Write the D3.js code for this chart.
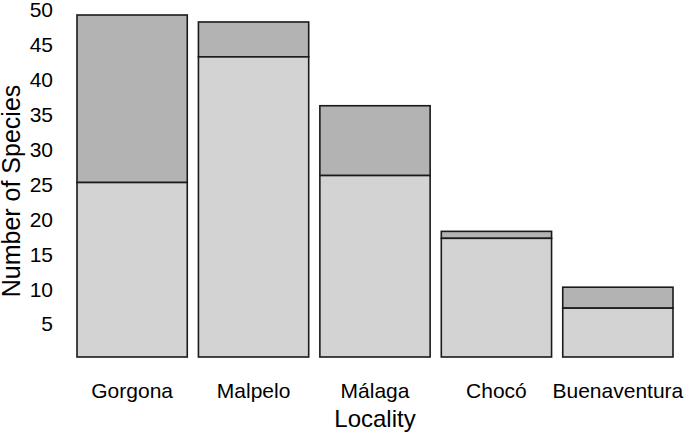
<!DOCTYPE html>
<html>
<head>
<meta charset="utf-8">
<script src="https://cdn.jsdelivr.net/npm/d3@7"></script>
<style>
  body { margin: 0; background: #fff; }
  text { font-family: "Liberation Sans", Arial, sans-serif; fill: #000; }
</style>
</head>
<body>
<div id="chart-area"></div>
<script>
// data
let localities = ["Gorgona", "Malpelo", "Málaga", "Chocó", "Buenaventura"];
let lowerValues = [25, 43, 26, 17, 7];
let upperValues = [24, 5, 10, 1, 3];
let yTicks = [5, 10, 15, 20, 25, 30, 35, 40, 45, 50];

let w = 685;
let h = 433;
let left = 77;
let right = 673;
let bottom = 357;

let svg = d3.select("#chart-area")
    .append("svg")
    .attr("width", w)
    .attr("height", h);

let xScale = d3.scaleBand()
    .domain(localities)
    .range([left, right])
    .paddingInner(0.092)
    .paddingOuter(0);

let yScale = d3.scaleLinear()
    .domain([0, 49])
    .range([bottom, 15]);

// y axis: labels only
let yAxis = d3.axisLeft(yScale)
    .tickValues(yTicks)
    .tickSize(0)
    .tickPadding(0);
let gy = svg.append("g")
    .attr("transform", "translate(53,0)")
    .call(yAxis);
gy.select(".domain").remove();
gy.selectAll("text")
    .style("font-size", "21px")
    .attr("dy", "0.42em");

// x axis
let xAxis = d3.axisBottom(xScale).tickSize(0).tickPadding(0);
let gx = svg.append("g")
    .attr("transform", "translate(0,397.5)")
    .call(xAxis);
gx.select(".domain").remove();
gx.selectAll("text")
    .style("font-size", "21px")
    .attr("y", 0)
    .attr("dy", 0);

// stacked bars
let rows = localities.map((d, i) => {
    return { name: d, low: lowerValues[i], high: upperValues[i] };
});

let bars = svg.selectAll("g.bar")
    .data(rows)
    .enter()
    .append("g")
    .attr("class", "bar");

bars.append("rect")
    .attr("x", (d) => xScale(d.name))
    .attr("width", xScale.bandwidth())
    .attr("y", (d) => yScale(d.low + d.high))
    .attr("height", (d) => yScale(d.low) - yScale(d.low + d.high))
    .attr("fill", "#b3b3b3")
    .attr("stroke", "#1a1a1a")
    .attr("stroke-width", 1.6);

bars.append("rect")
    .attr("x", (d) => xScale(d.name))
    .attr("width", xScale.bandwidth())
    .attr("y", (d) => yScale(d.low))
    .attr("height", (d) => yScale(0) - yScale(d.low))
    .attr("fill", "#d3d3d3")
    .attr("stroke", "#1a1a1a")
    .attr("stroke-width", 1.6);

// axis titles
svg.append("text")
    .attr("x", (left + right) / 2)
    .attr("y", 427)
    .attr("text-anchor", "middle")
    .style("font-size", "24px")
    .text("Locality");

svg.append("text")
    .attr("transform", "translate(20,191) rotate(-90)")
    .attr("text-anchor", "middle")
    .style("font-size", "25px")
    .text("Number of Species");
</script>
</body>
</html>
